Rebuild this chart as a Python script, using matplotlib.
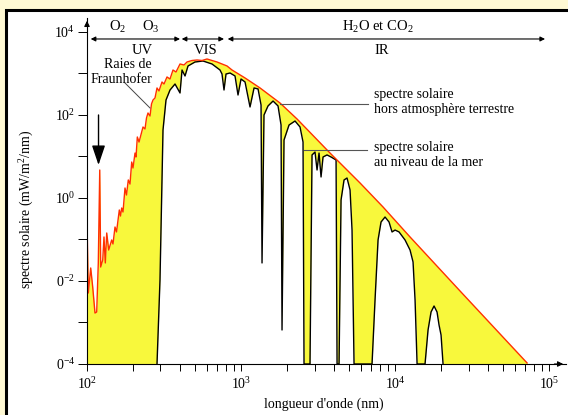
import matplotlib.pyplot as plt
import matplotlib.patches as mpatches

plt.rcParams['font.family'] = 'Liberation Serif'
plt.rcParams['mathtext.fontset'] = 'custom'
plt.rcParams['mathtext.rm'] = 'Liberation Serif'
plt.rcParams['mathtext.it'] = 'Liberation Serif:italic'

# spectre hors atmosphere (nm, mW/m2/nm)
top_wl = [100.45, 101.96, 105.7, 108.9, 112.7, 115.6, 118.4, 121.0, 122.7, 126.5,
          128.9, 131.5, 134.3, 138.3, 144.6, 147.5, 152.0, 155.5, 162.1, 165.0,
          168.0, 171.3, 176.5, 180.5, 185.4, 190.2, 195.1, 198.9, 205.0, 208.1,
          212.2, 217.7, 226.5, 231.0, 238.0, 243.4, 248.9, 256.5, 262.3, 268.3,
          276.4, 284.8, 293.4, 306.9, 316.2, 330.7, 345.9, 361.7, 378.4, 401.7,
          426.6, 446.1, 480.8, 518.0, 558.3, 601.5, 698.5, 811.1, 874.2, 1062,
          1329, 1791, 2310, 3784, 5926, 8357, 12515, 26430, 71970]
top_val = [0.1167, 0.00514, 0.0206, 0.00716, 0.00169, 0.00179, 0.0272, 4.73, 0.0217, 0.0321,
           0.115, 0.0272, 0.1435, 0.0558, 0.0973, 0.078, 0.200, 0.152, 0.514, 0.368,
           0.574, 0.460, 1.742, 1.18, 2.72, 2.17, 7.36, 5.28, 12.1, 9.73,
           29.5, 22.3, 38.9, 51.4, 46.0, 84.7, 111.7, 94.6, 184, 229.7,
           257, 447.7, 379, 624, 558, 824, 736, 1213, 1086, 1694,
           1603, 1892, 2056, 2114, 2056, 2235, 1892, 1517, 1213, 780,
           448, 194.5, 80.2, 12.1, 2.30, 0.607, 0.115, 0.00574, 1.06e-4]

# spectre au niveau de la mer
sea_wl = [284.8, 297.8, 311.5, 325.8, 345.9, 372.8, 401.7, 414.0, 432.9, 452.7,
          502.6, 566.6, 648.1, 730.4, 752.6, 775.4, 799.0, 848.4, 914.2, 956,
          1000, 1062, 1144, 1215, 1290, 1349, 1369, 1410, 1497, 1614,
          1739, 1819, 1846, 1902, 2050, 2242, 2416, 2527, 2565, 2805,
          2891, 3023, 3116, 3210, 3308, 3408, 3617, 3841, 4141, 4203,
          4330, 4461, 4665, 4879, 5104, 5258, 5418, 7090, 7415, 7757,
          8111, 8610, 9141, 9561, 10000, 10617, 11612, 12515, 13089, 13490,
          13903, 15659, 16380, 17130, 17915, 18735, 19307, 19894, 20500]
sea_val = [1e-4, 0.01057, 43.5, 229.7, 400, 558, 339, 1213, 871, 1517,
           1892, 2000, 1694, 1213, 972, 400, 972, 1028, 871, 303,
           736, 624, 156, 448, 424, 174, 0.0272, 100, 165, 217,
           165, 57.4, 6.6e-4, 25.0, 57.4, 71.6, 51.4, 22.3, 1e-4, 1e-4,
           10.9, 12.8, 4.73, 12.1, 3.21, 9.73, 10.9, 9.73, 8.24, 1e-4,
           1e-4, 0.895, 2.72, 3.03, 1.56, 0.169, 1e-4, 1e-4, 0.00348, 0.0973,
           0.264, 0.348, 0.264, 0.152, 0.169, 0.152, 0.0973, 0.0558, 0.0287, 0.00348,
           1e-4, 1e-4, 6.6e-4, 0.00179, 0.0025, 0.00179, 8.7e-4, 5.0e-4, 1e-4]

x_ticks = [1e2, 1e3, 1e4, 1e5]
x_labels = ['10$^2$', '10$^3$', '10$^4$', '10$^5$']
y_ticks = [1e-4, 1e-3, 1e-2, 1e-1, 1e0, 1e1, 1e2, 1e3, 1e4]
y_labels = ['0$^{-4}$', '', '0$^{-2}$', '', '10$^0$', '', '10$^2$', '', '10$^4$']

yellow = '#F8F83C'
red = '#FF3000'

fig = plt.figure(figsize=(5.68, 4.15), dpi=100, facecolor='#FFF9D4')
panel = mpatches.Rectangle((6 / 568, -0.1), 1.2, 1.1 - 10 / 415,
                           transform=fig.transFigure, facecolor='white',
                           edgecolor='black', lw=2.2, zorder=-5)
fig.patches.append(panel)

ax = fig.add_axes([87 / 568, 51 / 415, 479 / 568, 346 / 415])
ax.set_facecolor('none')
ax.set_xscale('log')
ax.set_yscale('log')
ax.set_xlim(1e2, 10 ** 5.11)
ax.set_ylim(1e-4, 10 ** 4.337)

ax.fill_between(top_wl, top_val, 1e-4, color=yellow, lw=0)
ax.fill_between(sea_wl, sea_val, 1e-4, color='white', lw=0)
ax.plot(sea_wl, sea_val, color='black', lw=1.0)
ax.plot(top_wl, top_val, color=red, lw=1.0)

for s in ['top', 'right']:
    ax.spines[s].set_visible(False)
ax.spines['left'].set_linewidth(0.8)
ax.spines['bottom'].set_linewidth(0.8)

ax.set_xticks(x_ticks)
ax.set_xticklabels(x_labels)
ax.set_yticks(y_ticks)
ax.set_yticklabels(y_labels)
ax.yaxis.set_minor_locator(plt.NullLocator())
ax.tick_params(axis='x', which='both', direction='out', length=5, width=0.7,
               labelsize=10, pad=4)
ax.tick_params(axis='y', which='both', direction='out', length=6.5, width=0.7,
               labelsize=10, pad=2)

# axis arrows
ax.annotate('', xy=(0, 1), xytext=(0, 0.97), xycoords='axes fraction',
            arrowprops=dict(arrowstyle='-|>', color='black', lw=0.8, mutation_scale=8))
ax.annotate('', xy=(1, 0), xytext=(0.97, 0), xycoords='axes fraction',
            arrowprops=dict(arrowstyle='-|>', color='black', lw=0.8, mutation_scale=8))

# domaines
arrow_y = 6782
for x0, x1 in [(105.7, 401.7), (412.0, 775.4), (819.6, 94190)]:
    ax.annotate('', xy=(x1, arrow_y), xytext=(x0, arrow_y),
                arrowprops=dict(arrowstyle='<|-|>', color='black', lw=0.8,
                                mutation_scale=7, shrinkA=0, shrinkB=0),
                annotation_clip=False)

ax.text(159, 10570, 'O$_2$', ha='center', va='baseline', fontsize=10.5)
ax.text(260.4, 10570, 'O$_3$', ha='center', va='baseline', fontsize=10.5)
ax.text(7757, 10570, 'H$_2$O et CO$_2$', ha='center', va='baseline', fontsize=10.5)
ax.text(227.6, 2951, 'UV', ha='center', va='baseline', fontsize=10.5)
ax.text(592.6, 2951, 'VIS', ha='center', va='baseline', fontsize=10.5)
ax.text(8231, 2951, 'IR', ha='center', va='baseline', fontsize=10.5)

# Fraunhofer
ax.text(264.3, 1086, 'Raies de\nFraunhofer', ha='right', va='center',
        multialignment='right', fontsize=10, linespacing=1.15)
ax.plot([176.5, 256.5], [590, 147.5], color='#444444', lw=0.7)
ax.annotate('', xy=(118.8, 6.24), xytext=(118.8, 100),
            arrowprops=dict(arrowstyle='-|>,head_length=0.8,head_width=0.27',
                            color='black', lw=1.0, mutation_scale=15,
                            shrinkA=0, shrinkB=0))

# legendes
ax.plot([1791, 6677], [189, 189], color='#555555', lw=0.8)
ax.text(7305, 205.6, 'spectre solaire\nhors atmosph\u00e8re terrestre',
        ha='left', va='center', fontsize=10, linespacing=1.2)
ax.plot([2565, 6580], [14.36, 14.36], color='#555555', lw=0.8)
ax.text(7305, 10.86, 'spectre solaire\nau niveau de la mer',
        ha='left', va='center', fontsize=10, linespacing=1.2)

fig.text(27 / 568, 1 - 209 / 415, 'spectre solaire (mW/m$^2$/nm)', rotation=90,
         ha='center', va='center', fontsize=10)
fig.text(324 / 568, 1 - 404 / 415, "longueur d'onde (nm)",
         ha='center', va='center', fontsize=10)

fig.savefig('out.png', dpi=100, facecolor=fig.get_facecolor())
